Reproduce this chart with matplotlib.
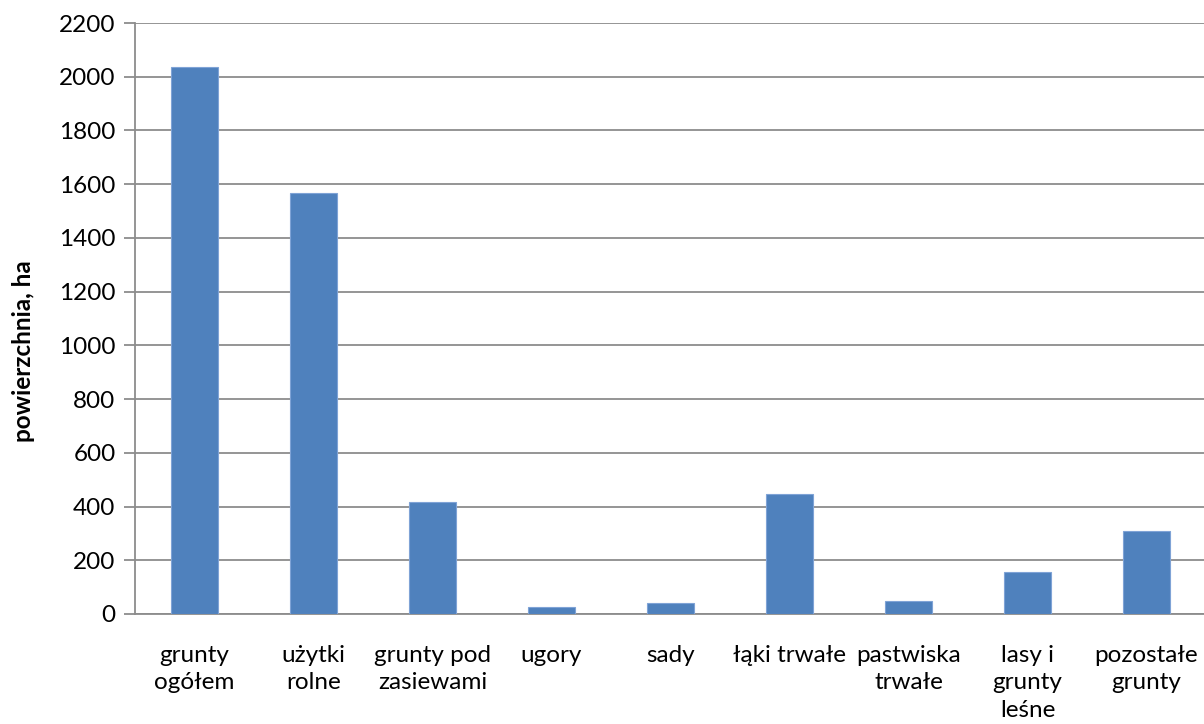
import matplotlib
matplotlib.use("Agg")
import matplotlib.pyplot as plt

# Land use areas (ha)
categories = [
    "grunty\nogółem",
    "użytki\nrolne",
    "grunty pod\nzasiewami",
    "ugory",
    "sady",
    "łąki trwałe",
    "pastwiska\ntrwałe",
    "lasy i\ngrunty\nleśne",
    "pozostałe\ngrunty",
]
area_ha = [2035, 1567, 417, 25, 40, 447, 47, 155, 310]
y_ticks = list(range(0, 2201, 200))

plt.rcParams["font.family"] = ["Lato", "DejaVu Sans"]

fig = plt.figure(figsize=(12.04, 7.24), dpi=100)
# axes run slightly past the right edge of the figure
ax = fig.add_axes([135 / 1204, 110 / 724, 1071 / 1204, 591 / 724])

x = range(len(categories))
ax.bar(x, area_ha, width=0.4, color="#4F81BD", edgecolor="#7FA3D6",
       linewidth=0.8, zorder=3)

ax.set_xlim(-0.5, len(categories) - 0.5)
ax.set_ylim(0, 2200)
ax.set_yticks(y_ticks)
ax.set_xticks(list(x))
ax.set_xticklabels(categories, fontsize=17.5, linespacing=1.4)

ax.grid(axis="y", color="#8C8C8C", linewidth=1.3, zorder=0)
ax.tick_params(axis="y", labelsize=17.5, length=8, width=1.3, color="#8C8C8C",
               pad=6)
ax.tick_params(axis="x", length=0, pad=22)

for side in ("top", "right"):
    ax.spines[side].set_visible(False)
for side in ("left", "bottom"):
    ax.spines[side].set_color("#8C8C8C")
    ax.spines[side].set_linewidth(1.3)

ax.set_ylabel("powierzchnia, ha", fontsize=17.5, fontweight="bold")
ax.yaxis.set_label_coords(-0.093, 0.445)

fig.savefig("out.png", dpi=100)
